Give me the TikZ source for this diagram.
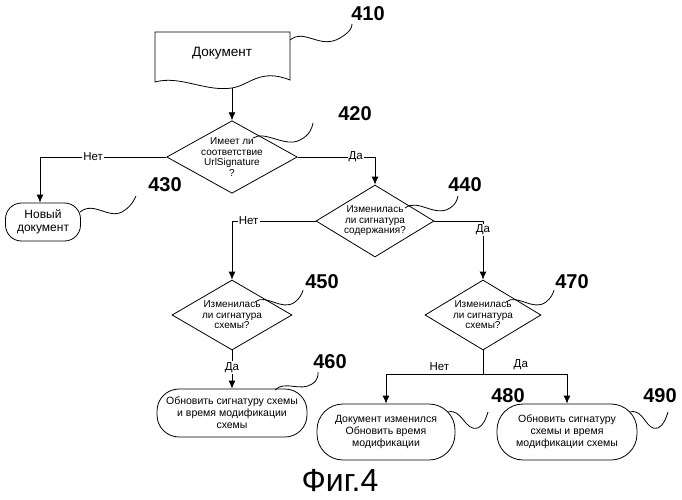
\documentclass[tikz,border=0pt]{standalone}
\usepackage{fontspec}
\setmainfont{Liberation Sans}
\usetikzlibrary{shapes.geometric,arrows.meta}
\begin{document}
\begin{tikzpicture}[x=1pt,y=-1pt,
  dia/.style={diamond,draw,thick,aspect=1.8,inner sep=0pt,align=center,font=\fontsize{10}{10.5}\selectfont},
  term/.style={rounded corners=22pt,draw,thick,align=center,font=\fontsize{10.5}{12}\selectfont,inner sep=2pt},
  num/.style={font=\bfseries\fontsize{20}{22}\selectfont},
  lab/.style={font=\fontsize{11.5}{12}\selectfont,fill=white,inner sep=1pt},
  arr/.style={thick,-{Latex[length=8pt,width=7pt]}},
  ln/.style={thick},
  sq/.style={thick}]
\useasboundingbox (0,0) rectangle (682,500);
% document 410
\draw[thick] (155,32) -- (290,32) -- (290,80) .. controls (260,68) and (250,85) .. (232,88) .. controls (205,92) and (180,75) .. (155,82) -- cycle;
\node[font=\fontsize{13.5}{14}\selectfont] (d410) at (222,53) {Документ};
\node[num] (n410) at (368,14) {410};
\draw[sq] (290,40) .. controls (305,28) and (320,50) .. (340,38) .. controls (350,32) and (352,28) .. (352,24);
\coordinate (docb) at (232,88);
% 420
\node[dia,minimum width=120pt,minimum height=66pt] (q420) at (232,157) {Имеет ли\\соответствие\\UrlSignature\\?};
\draw[arr] (docb) -- (q420.north);
\node[num] (n420) at (355,114) {420};
\draw[sq] (253,138) .. controls (265,130) and (285,148) .. (300,140) .. controls (310,135) and (312,128) .. (313,123);
% 430
\node[term,minimum width=75pt,minimum height=38pt,rounded corners=16pt,font=\fontsize{12}{13}\selectfont] (t430) at (43,222) {Новый\\документ};
\coordinate (c1) at (40,157);
\draw[arr] (q420.west) -- node[lab,pos=0.58]{Нет} (c1) -- (c1 |- t430.north);
\node[num] (n430) at (165,185) {430};
\draw[sq] (80,212) .. controls (95,200) and (110,222) .. (125,210) .. controls (132,205) and (134,200) .. (136,196);
% 440
\node[dia,minimum width=118pt,minimum height=72pt] (q440) at (375,221) {Изменилась\\ли сигнатура\\содержания?};
\coordinate (c2) at (375,157);
\draw[ln] (q420.east) -- node[lab,pos=0.75]{Да} (c2);
\draw[arr] (c2) -- (q440.north);
\node[num] (n440) at (465,185) {440};
\draw[sq] (405,208) .. controls (418,198) and (435,218) .. (450,208) .. controls (456,204) and (457,200) .. (458,196);
% 450
\node[dia,minimum width=120pt,minimum height=70pt] (q450) at (232,315) {Изменилась\\ли сигнатура\\схемы?};
\coordinate (c3) at (232,221);
\draw[arr] (q440.west) -- node[lab,pos=0.8]{Нет} (c3) -- (q450.north);
\node[num] (n450) at (322,282) {450};
\draw[sq] (255,302) .. controls (266,293) and (282,312) .. (295,302) .. controls (300,298) and (302,294) .. (303,290);
% 470
\node[dia,minimum width=116pt,minimum height=70pt] (q470) at (483,315) {Изменилась\\ли сигнатура\\схемы?};
\coordinate (c4) at (483,221);
\draw[ln] (q440.east) -- (c4);
\draw[arr] (c4) -- node[lab,pos=0.15]{Да} (q470.north);
\node[num] (n470) at (572,282) {470};
\draw[sq] (506,302) .. controls (517,293) and (533,312) .. (546,302) .. controls (551,298) and (553,294) .. (554,290);
% 460
\node[term,minimum width=150pt,minimum height=48pt] (t460) at (232,413) {Обновить сигнатуру схемы\\и время модификации\\схемы};
\draw[arr] (q450.south) -- node[lab,pos=0.45]{Да} (t460.north);
\node[num] (n460) at (330,362) {460};
\draw[sq] (275,390) .. controls (285,380) and (300,392) .. (312,384) .. controls (318,380) and (318,376) .. (318,372);
% 480 / 490
\node[term,minimum width=138pt,minimum height=56pt,rounded corners=26pt] (t480) at (386,432) {Документ изменился\\Обновить время\\модификации};
\node[term,minimum width=140pt,minimum height=56pt,rounded corners=26pt] (t490) at (567,432) {Обновить сигнатуру\\схемы и время\\модификации схемы};
\coordinate (c5) at (483,374);
\coordinate (c6) at (386,374);
\coordinate (c7) at (567,374);
\draw[ln] (q470.south) -- (c5);
\draw[arr] (c5) -- node[font=\fontsize{11.5}{12}\selectfont,above,pos=0.45]{Нет} (c6) -- (t480.north);
\draw[arr] (c5) -- node[font=\fontsize{11.5}{12}\selectfont,above,pos=0.45]{Да} (c7) -- (t490.north);
\node[num] (n480) at (508,396) {480};
\draw[sq] (448,412) .. controls (462,408) and (465,432) .. (478,428) .. controls (484,425) and (486,418) .. (488,412);
\node[num] (n490) at (660,396) {490};
\draw[sq] (630,412) .. controls (644,408) and (646,432) .. (658,428) .. controls (664,425) and (666,418) .. (668,412);
% caption
\node[font=\fontsize{32}{34}\selectfont] (cap) at (340,480) {Фиг.4};
\end{tikzpicture}
\end{document}
